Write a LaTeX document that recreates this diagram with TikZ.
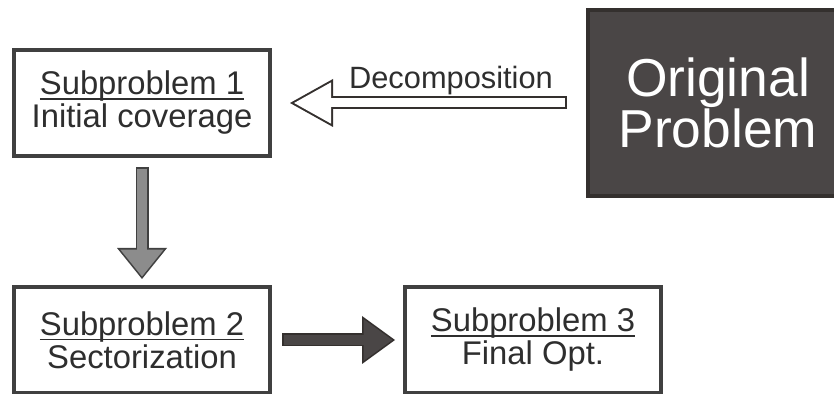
\documentclass[tikz,border=0pt]{standalone}
\usepackage{fontspec}
\setmainfont{Liberation Sans}
\usepackage{xcolor}
\usetikzlibrary{arrows.meta, positioning}

\definecolor{boxline}{HTML}{404040}
\definecolor{textgray}{HTML}{2E2E2E}
\definecolor{darkfill}{HTML}{4A4646}
\definecolor{darkline}{HTML}{34302E}
\definecolor{midgray}{HTML}{8C8C8C}

% underlined first line of a box
\newsavebox{\headbox}
\newcommand{\heading}[1]{\sbox{\headbox}{#1}\rlap{\rule[-2.3pt]{\wd\headbox}{0.65pt}}\usebox{\headbox}}

\begin{document}
\begin{tikzpicture}[
    node distance=63.5pt and 65.5pt,
    every node/.style={text=textgray, inner sep=0pt},
    subbox/.style={draw=boxline, line width=2pt, minimum width=128pt, minimum height=53pt,
        align=center, font=\fontsize{16.4}{16.5}\selectfont},
    origbox/.style={draw=darkline, fill=darkfill, line width=2pt, minimum width=130pt,
        minimum height=93pt, align=center, text=white, font=\fontsize{26.7}{22.5}\selectfont},
    hollow arrow/.style={draw=white, line width=4.5pt, shorten <=10.5pt, shorten >=11.05pt,
        -{Triangle[length=18.45pt, width=20.6pt, line width=0pt]},
        preaction={draw=darkline, line width=6.5pt, shorten <=9.5pt, shorten >=9pt,
        -{Triangle[length=21.5pt, width=24pt, line width=0pt]}}},
    gray arrow/.style={draw=midgray, line width=4.9pt, shorten <=5.3pt, shorten >=4.27pt,
        -{Triangle[length=13.43pt, width=21.66pt, line width=0pt]},
        preaction={draw=boxline, line width=6.5pt, shorten <=4.5pt, shorten >=3pt,
        -{Triangle[length=15.5pt, width=25pt, line width=0pt]}}},
    dark arrow/.style={draw=darkfill, line width=4.9pt, shorten <=5.8pt, shorten >=5.36pt,
        -{Triangle[length=14.34pt, width=20.86pt, line width=0pt]},
        preaction={draw=darkline, line width=6.5pt, shorten <=5pt, shorten >=4pt,
        -{Triangle[length=16.5pt, width=24pt, line width=0pt]}}}
    ]

    \useasboundingbox (0,0) rectangle (417pt,-197pt);

    % Nodes
    \node[subbox] (sub1) at (71pt,-51.5pt) {\heading{Subproblem 1}\\Initial coverage};
    \node[subbox] (sub2) [below=of sub1] {\heading{Subproblem 2}\\Sectorization};
    \node[subbox] (sub3) [right=of sub2] {\heading{Subproblem 3}\\Final Opt.};
    \node[origbox] (orig) [right=157pt of sub1] {Original\\Problem};

    % Arrows
    \draw[hollow arrow] (orig) -- node[pos=0.43, above=1.8pt, font=\fontsize{15.4}{16}\selectfont] (decomp) {Decomposition} (sub1);
    \draw[gray arrow] (sub1) -- (sub2);
    \draw[dark arrow] (sub2) -- (sub3);
\end{tikzpicture}
\end{document}
